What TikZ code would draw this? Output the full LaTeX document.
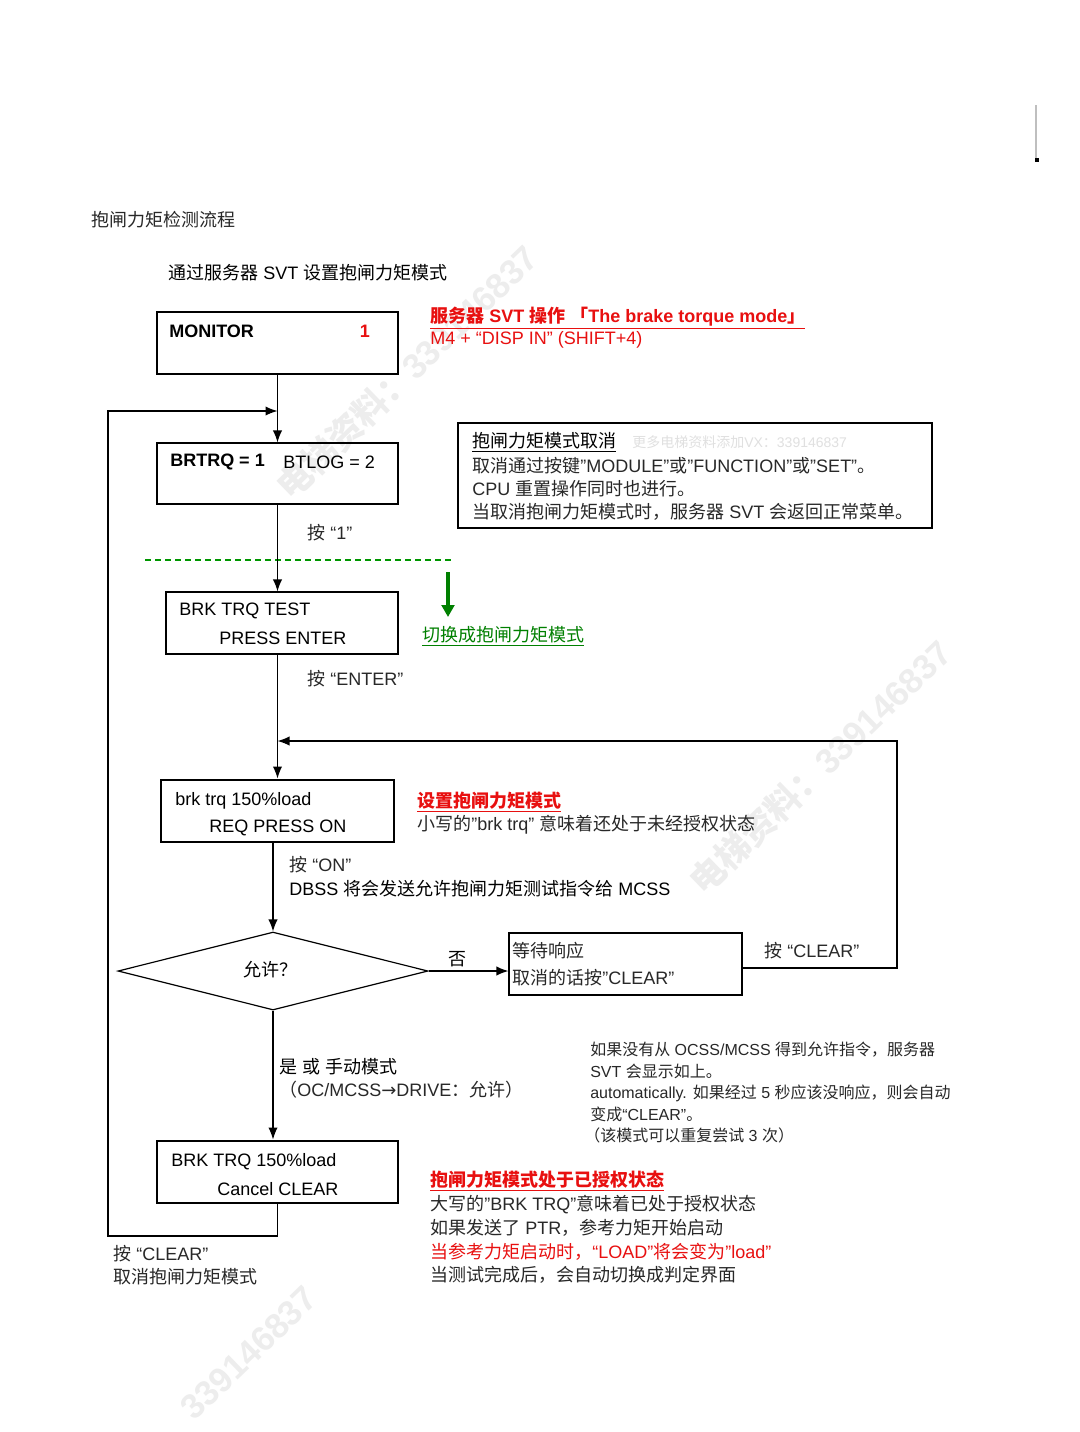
\documentclass[tikz,border=0pt]{standalone}
\usepackage{fontspec}
\setmainfont{Liberation Sans}
\newfontfamily\cjkfont{Noto Sans CJK SC}
\newfontfamily\arrowfont{DejaVu Sans}
\usetikzlibrary{arrows.meta,shapes.geometric,fit}
% automatic switching between Latin and CJK fonts
\XeTeXinterchartokenstate=1
\newXeTeXintercharclass\cjkcls
\newcount\cjkc
\def\setcls#1#2#3{\cjkc=#1\relax\loop\XeTeXcharclass\cjkc=#3\relax\advance\cjkc by 1\relax\ifnum\cjkc<#2\relax\repeat}
\setcls{"21}{"3000}{0}
\setcls{"3000}{"3040}{\cjkcls}
\setcls{"4E00}{"A000}{\cjkcls}
\setcls{"FF00}{"FFF0}{\cjkcls}
\XeTeXinterchartoks 0 \cjkcls = {\cjkfont}
\XeTeXinterchartoks 4095 \cjkcls = {\cjkfont}
\XeTeXinterchartoks \cjkcls 0 = {\rmfamily}
\XeTeXinterchartoks \cjkcls 4095 = {\rmfamily}
\newcommand\mysz{\fontsize{13.5pt}{16pt}\selectfont}
\newcommand\mysmall{\fontsize{12pt}{14pt}\selectfont}
\definecolor{myred}{RGB}{232,16,16}
\definecolor{mygreen}{RGB}{0,128,0}
\definecolor{dgreen}{RGB}{0,150,0}
\definecolor{tgray}{RGB}{40,40,40}
\begin{document}
\begin{tikzpicture}[x=0.75pt,y=-0.75pt,
  txt/.style={anchor=west,inner sep=0pt,font=\mysz,text=tgray},
  box/.style={draw,line width=0.9pt,inner sep=0pt},
  tbox/.style={draw,line width=2.2pt,inner sep=0pt},
  arr/.style={-{Latex[length=9pt,width=7pt]},line width=0.9pt},
  wm/.style={text=black!7,font=\fontsize{26pt}{26pt}\selectfont\bfseries,rotate=44,inner sep=0pt}]
\fill[white] (0,0) rectangle (1080,1432);
\useasboundingbox (0,0) rectangle (1080,1432);
\clip (0,0) rectangle (1080,1432);
% watermarks
\node[wm] (wm1) at (407,372) {电梯资料：339146837};
\node[wm] (wm2) at (820,767) {电梯资料：339146837};
\node[wm] (wm3) at (249,1353) {339146837};
% corner mark
\coordinate (mk1) at (1036,105);
\coordinate (mk2) at (1036,160);
\draw[black!25,line width=1.2pt] (mk1) -- (mk2);
\fill[black] (1035,158) rectangle (1039,162);
% titles
\node[txt] (t1) at (91,220) {抱闸力矩检测流程};
\node[txt,text=black] (t2) at (168,273) {通过服务器 SVT 设置抱闸力矩模式};
% MONITOR
\node[box,fit={(157,312) (398,374)}] (mon) {};
\node[txt,font=\mysz\bfseries,text=black] (monT) at (169,331) {MONITOR};
\node[txt,anchor=center,font=\mysz\bfseries,text=myred] (monN) at (365,331) {1};
\node[txt,font=\mysz\bfseries,text=myred] (svt1) at (430,318) {\underline{服务器 SVT 操作 「The brake torque mode」}};
\node[txt,text=myred] (svt2) at (430,340) {M4 + “DISP IN” (SHIFT+4)};
% BRTRQ
\node[box,fit={(157,443) (398,504)}] (brt) {};
\node[txt,font=\mysz\bfseries,text=black] (brtA) at (170,462) {BRTRQ = 1};
\node[txt,text=black] (brtB) at (283,462) {BTLOG = 2};
\node[txt] (l1) at (307,533) {按 “1”};
% cancel info box
\node[box,line width=1.3pt,fit={(458,423) (932,528)}] (cbox) {};
\node[txt,text=black] (c1) at (472,442) {\underline{抱闸力矩模式取消}};
\node[txt,text=black!12,font=\fontsize{10.5pt}{12pt}\selectfont] (cwm) at (632,442) {更多电梯资料添加VX：339146837};
\node[txt] (c2) at (472,466) {取消通过按键"MODULE"或"FUNCTION"或"SET"。};
\node[txt] (c3) at (472,489) {CPU 重置操作同时也进行。};
\node[txt] (c4) at (472,512) {当取消抱闸力矩模式时，服务器 SVT 会返回正常菜单。};
% green divider
\coordinate (gd1) at (145,560);
\coordinate (gd2) at (455,560);
\draw[dgreen,line width=1pt,dash pattern=on 4.5pt off 3pt] (gd1) -- (gd2);
\coordinate (ga1) at (448,572);
\coordinate (ga2) at (448,617);
\draw[mygreen,line width=3pt,-{Triangle[length=9pt,width=9.5pt]}] (ga1) -- (ga2);
\node[txt,text=mygreen] (gt) at (422,636) {\underline{切换成抱闸力矩模式}};
% BRK TRQ TEST
\node[box,fit={(166,592) (398,654)}] (bte) {};
\node[txt,text=black] (bteA) at (179,611) {BRK TRQ TEST};
\node[txt,text=black] (bteB) at (219,638) {PRESS ENTER};
\node[txt] (l2) at (307,679) {按 “ENTER”};
% brk trq
\node[tbox,fit={(161,780) (394,842)}] (req) {};
\node[txt,text=black] (reqA) at (175,801) {brk trq 150\%load};
\node[txt,text=black] (reqB) at (209,828) {REQ PRESS ON};
\node[txt,font=\mysz\bfseries,text=myred] (s1) at (417,802) {\underline{设置抱闸力矩模式}};
\node[txt] (s2) at (417,825) {小写的"brk trq" 意味着还处于未经授权状态};
\node[txt] (l3) at (289,865) {按 “ON”};
\node[txt,text=black] (l4) at (289,889) {DBSS 将会发送允许抱闸力矩测试指令给 MCSS};
% diamond
\node[draw,diamond,line width=0.9pt,aspect=3.97,minimum width=232.5pt,minimum height=58.5pt,inner sep=0pt] (dia) at (273,971) {};
\node[txt,anchor=center,text=black] (diaT) at (270,970) {允许？};
\node[txt,anchor=center,text=black] (no) at (457,959) {否};
% waiting box
\node[box,fit={(509,933) (742,995)}] (wait) {};
\node[txt] (w1) at (512,951) {等待响应};
\node[txt] (w2) at (512,978) {取消的话按”CLEAR”};
\node[txt] (l5) at (764,951) {按 “CLEAR”};
% yes label
\node[txt,text=black] (y1) at (279,1067) {是 或 手动模式};
\node[txt] (y2) at (279,1090) {（OC/MCSS{\arrowfont →}DRIVE：允许）};
% right note
\node[txt,font=\mysmall] (r1) at (590,1050) {如果没有从 OCSS/MCSS 得到允许指令，服务器};
\node[txt,font=\mysmall] (r2) at (590,1071) {SVT 会显示如上。};
\node[txt,font=\mysmall] (r3) at (590,1093) {automatically. 如果经过 5 秒应该没响应，则会自动};
\node[txt,font=\mysmall] (r4) at (590,1114) {变成“CLEAR”。};
\node[txt,font=\mysmall] (r5) at (584,1135) {（该模式可以重复尝试 3 次）};
% final box
\node[tbox,fit={(157,1141) (398,1203)}] (fin) {};
\node[txt,text=black] (finA) at (171,1162) {BRK TRQ 150\%load};
\node[txt,text=black] (finB) at (217,1189) {Cancel CLEAR};
\node[txt] (l6) at (113,1254) {按 “CLEAR”};
\node[txt] (l7) at (113,1277) {取消抱闸力矩模式};
\node[txt,font=\mysz\bfseries,text=myred] (a1) at (430,1181) {\underline{抱闸力矩模式处于已授权状态}};
\node[txt] (a2) at (430,1205) {大写的”BRK TRQ”意味着已处于授权状态};
\node[txt] (a3) at (430,1228) {如果发送了 PTR，参考力矩开始启动};
\node[txt,text=myred] (a4) at (430,1252) {当参考力矩启动时，“LOAD”将会变为”load”};
\node[txt] (a5) at (430,1275) {当测试完成后，会自动切换成判定界面};
% connectors
\coordinate (fbB) at (108,1236);
\coordinate (fbC) at (108,411);
\coordinate (rtLow) at (897,968);
\coordinate (rtTop) at (897,741);
\draw[arr] (mon.south) -- (brt.north);
\draw[arr] (fin.south) |- (fbB) -- (fbC) -- (mon.south |- fbC);
\draw[arr] (brt.south) -- (brt.south |- bte.north);
\draw[arr] (req.north |- bte.south) -- (req.north);
\draw[arr] (wait.east |- rtLow) -- (rtLow) -- (rtTop) -- (req.north |- rtTop);
\draw[arr] (dia.north |- req.south) -- (dia.north);
\draw[arr] (dia.east) -- (wait.west |- dia.east);
\draw[arr] (dia.south) -- (dia.south |- fin.north);
\end{tikzpicture}
\end{document}
